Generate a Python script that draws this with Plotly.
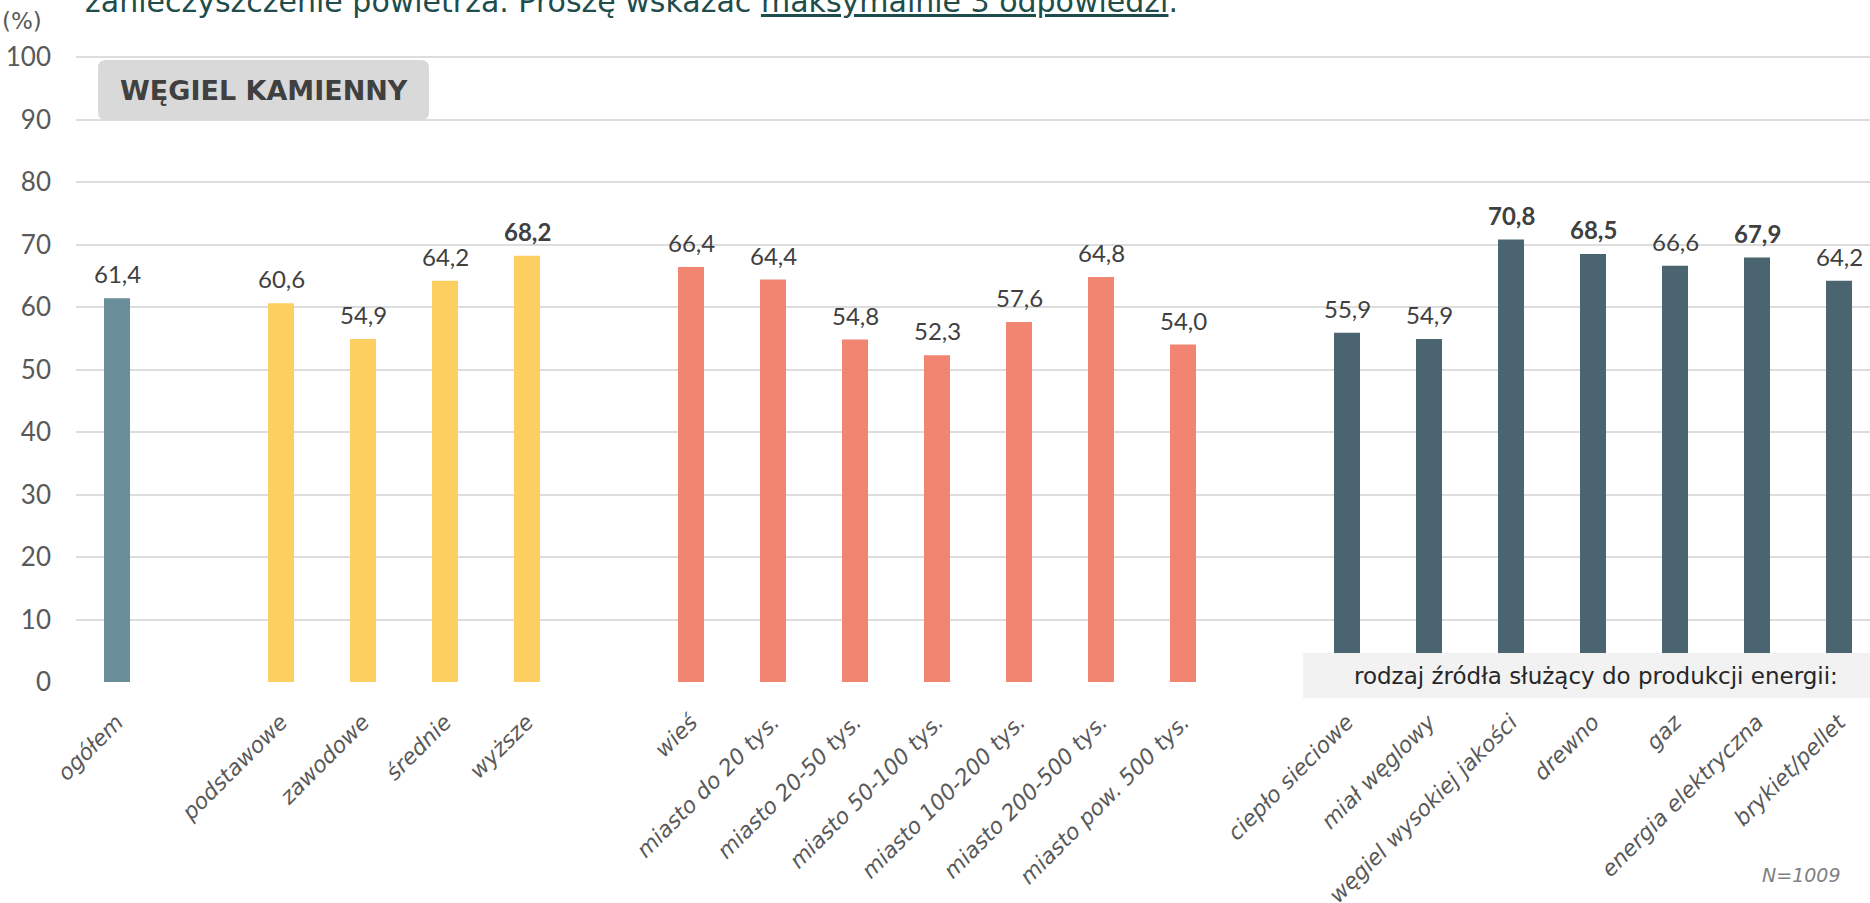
import plotly.graph_objects as go

# ---- data ----
cat_total = ["ogółem"]
val_total = [61.4]
cat_edu = ["podstawowe", "zawodowe", "średnie", "wyższe"]
val_edu = [60.6, 54.9, 64.2, 68.2]
cat_loc = ["wieś", "miasto do 20 tys.", "miasto 20-50 tys.", "miasto 50-100 tys.",
           "miasto 100-200 tys.", "miasto 200-500 tys.", "miasto pow. 500 tys."]
val_loc = [66.4, 64.4, 54.8, 52.3, 57.6, 64.8, 54.0]
cat_src = ["ciepło sieciowe", "miał węglowy", "węgiel wysokiej jakości", "drewno",
           "gaz", "energia elektryczna", "brykiet/pellet"]
val_src = [55.9, 54.9, 70.8, 68.5, 66.6, 67.9, 64.2]
bold_labels = ["wyższe", "węgiel wysokiej jakości", "drewno", "energia elektryczna"]
y_ticks = [0, 10, 20, 30, 40, 50, 60, 70, 80, 90, 100]

groups = [
    (cat_total, val_total, "#6A8E99"),
    (cat_edu, val_edu, "#FCCF60"),
    (cat_loc, val_loc, "#F28572"),
    (cat_src, val_src, "#4A6570"),
]

# category order with blank spacer slots between groups
spacers = [" ", "  ", "   "]
cat_order = []
for i, (cats, _, _) in enumerate(groups):
    cat_order += cats
    if i < len(spacers):
        cat_order.append(spacers[i])

NUM_FONT = "Lato"
TXT_FONT = "DejaVu Sans"
W, H = 1870, 903
PX_PER_UNIT = 6.25
ML, MT = 76, 51
PH = 631
PW = 1794
MR = W - ML - PW
MB = H - MT - PH
YMAX = PH / PX_PER_UNIT


def px_x(px):
    return (px - ML) / PW


def px_y(py):
    return 1 - (py - MT) / PH


fig = go.Figure()
for cats, vals, color in groups:
    fig.add_trace(go.Bar(
        x=cats, y=vals, marker=dict(color=color, line=dict(width=0)),
        width=0.317, showlegend=False, hoverinfo="x+y",
    ))

annotations = []
for cats, vals, _ in groups:
    for c, v in zip(cats, vals):
        txt = f"{v:.1f}".replace(".", ",")
        if c in bold_labels:
            txt = f"<b>{txt}</b>"
        annotations.append(dict(
            x=c, y=v, xref="x", yref="y", text=txt, showarrow=False,
            yanchor="bottom", yshift=8,
            font=dict(family=NUM_FONT, size=24, color="#404040"),
        ))

# header question (cut at top)
annotations.append(dict(
    x=px_x(83), y=1, xref="paper", yref="paper", xanchor="left", yanchor="bottom",
    yshift=MT - 21, showarrow=False,
    text="zanieczyszczenie powietrza. Proszę wskazać <u>maksymalnie 3 odpowiedzi</u>.",
    font=dict(family=TXT_FONT, size=30, color="#1E4D4B"),
))
# (%) unit
annotations.append(dict(
    x=px_x(0), y=px_y(21), xref="paper", yref="paper", xanchor="left", yanchor="middle",
    showarrow=False, text="(%)", font=dict(family=TXT_FONT, size=23, color="#595959"),
))
# title box text
bx0, bx1, by0, by1 = px_x(98), px_x(429), px_y(120), px_y(60)
annotations.append(dict(
    x=(bx0 + bx1) / 2, y=(by0 + by1) / 2, xref="paper", yref="paper",
    xanchor="center", yanchor="middle", showarrow=False,
    text="<b>WĘGIEL KAMIENNY</b>", font=dict(family=TXT_FONT, size=27, color="#404040"),
))
# energy source box text
ex0, ex1, ey0, ey1 = px_x(1303), px_x(1870), px_y(698), px_y(653)
annotations.append(dict(
    x=px_x(1596), y=(ey0 + ey1) / 2, xref="paper", yref="paper",
    xanchor="center", yanchor="middle", showarrow=False,
    text="rodzaj źródła służący do produkcji energii:",
    font=dict(family=TXT_FONT, size=23, color="#262626"),
))
# N
annotations.append(dict(
    x=px_x(1843), y=px_y(875), xref="paper", yref="paper",
    xanchor="right", yanchor="middle", showarrow=False,
    text="<i>N=1009</i>", font=dict(family=TXT_FONT, size=19, color="#7F7F7F"),
))

# rounded rect path for title box
rx, ry = 8 / PW, 8 / PH
path = (f"M {bx0+rx},{by1} L {bx1-rx},{by1} Q {bx1},{by1} {bx1},{by1-ry} "
        f"L {bx1},{by0+ry} Q {bx1},{by0} {bx1-rx},{by0} "
        f"L {bx0+rx},{by0} Q {bx0},{by0} {bx0},{by0+ry} "
        f"L {bx0},{by1-ry} Q {bx0},{by1} {bx0+rx},{by1} Z")

shapes = [
    dict(type="path", path=path, xref="paper", yref="paper",
         fillcolor="#D9D9D9", line=dict(width=0), layer="above"),
    dict(type="rect", x0=ex0, x1=ex1, y0=ey0, y1=ey1, xref="paper", yref="paper",
         fillcolor="#F2F2F2", line=dict(width=0), layer="above"),
]

ticktext = [("" if c in spacers else f"<i>{c}</i>") for c in cat_order]

fig.update_layout(
    width=W, height=H,
    margin=dict(l=ML, r=MR, t=MT, b=MB, pad=0, autoexpand=False),
    paper_bgcolor="white", plot_bgcolor="white",
    barmode="overlay",
    annotations=annotations, shapes=shapes,
    xaxis=dict(
        type="category", categoryorder="array", categoryarray=cat_order,
        range=[-0.5, -0.5 + PW / 82.0],
        tickmode="array", tickvals=cat_order, ticktext=ticktext,
        tickangle=-45, showgrid=False, showline=False, zeroline=False, ticks="",
        tickfont=dict(family=TXT_FONT, size=22, color="#595959"),
        ticklabelstandoff=22, automargin=False,
    ),
    yaxis=dict(
        range=[0, YMAX], tickmode="array", tickvals=y_ticks,
        showgrid=True, gridcolor="#DDDDDD", gridwidth=2,
        zeroline=False, showline=False, ticks="",
        tickfont=dict(family=NUM_FONT, size=26, color="#595959"),
        ticklabelstandoff=24, automargin=False,
    ),
)

fig.write_html(
    "out.html",
    config={"displayModeBar": False},
    post_script="document.body.style.margin='0';document.body.style.overflow='hidden';",
)
